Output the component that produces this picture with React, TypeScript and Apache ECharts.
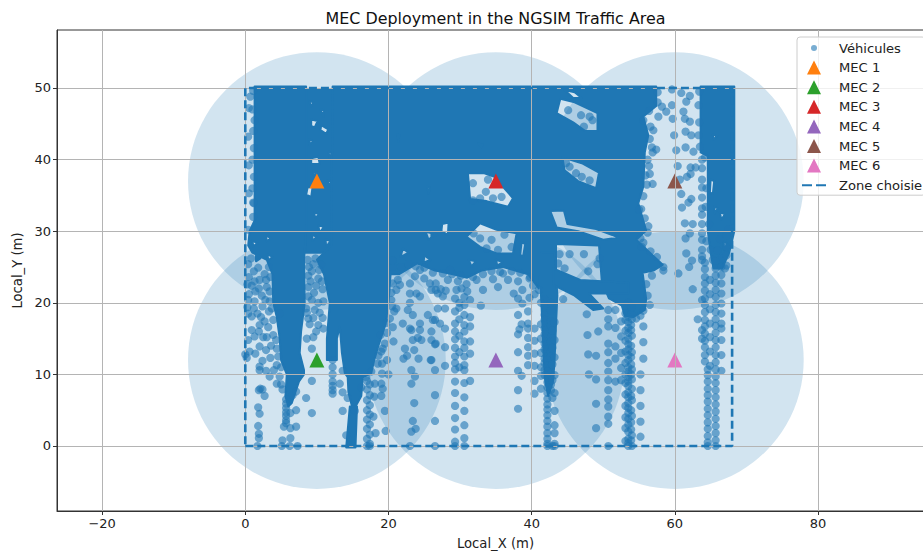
import React, { useEffect, useRef } from "react";
import * as echarts from "echarts";

type P = number[];
const BLUE = "#1f77b4";
const FONT = "'DejaVu Sans', sans-serif";

const xTicks = [-20, 0, 20, 40, 60, 80];
const yTicks = [0, 10, 20, 30, 40, 50];
const zoneLine: P[] = [[0, 0], [68, 0], [68, 50], [0, 50], [0, 0]];
const mecNames = ["MEC 1", "MEC 2", "MEC 3", "MEC 4", "MEC 5", "MEC 6"];
const mecColors = ["#ff7f0e", "#2ca02c", "#d62728", "#9467bd", "#8c564b", "#e377c2"];
const mecPoints: P[] = [[10, 37], [10, 12], [35, 37], [35, 12], [60, 37], [60, 12]];
const mecRadius = 18;

// Saturated regions of the vehicle cloud (outlines)
const massA: P[] = [[1.3, 50.2], [8.5, 50.2], [8.5, 30], [8.2, 26], [8.3, 20], [7.8, 16], [7.6, 13], [8.2, 10.6], [8.2, 10], [7.5, 9], [7, 7.5], [6.5, 6], [6, 5.5], [5.6, 7], [5.8, 10], [5, 12], [4.8, 15], [4.4, 18], [3.9, 20], [3.8, 24], [3, 26], [1, 27], [0.4, 28], [0.6, 30], [1.3, 31.5]];
const massB: P[] = [[12.2, 50.2], [44.5, 50.2], [57.4, 50.2], [57.4, 47.5], [55.6, 46], [56.3, 43.4], [55.8, 41], [55.6, 36.2], [54.9, 33.9], [56, 30.1], [54.6, 28.8], [58.3, 25.3], [57, 24.5], [55.5, 24.2], [56, 20.5], [55.8, 19], [54.2, 18], [53, 18.2], [52.6, 19.6], [50.8, 20.6], [49.8, 23], [49.4, 28], [43.4, 28.2], [43.4, 24.6], [41.2, 24], [41, 22], [39.5, 24], [36, 25], [33, 24.5], [31, 23.5], [29, 24], [26.5, 24.5], [24, 25.5], [21.5, 24], [20.3, 24], [20, 20], [19.6, 17], [18.6, 14], [18, 12], [17.6, 10.2], [16.4, 9.6], [16.2, 7], [15.4, 5.5], [14.9, 5.5], [14.4, 7.5], [14.3, 9.6], [13.9, 10.2], [13.5, 13], [13.2, 16.7], [12.8, 15], [12.8, 12], [11.4, 12], [11.4, 15], [11.8, 20], [11, 24], [10, 26], [12, 28]];
const massC: P[] = [[8.4, 49.7], [12.3, 49.7], [12.3, 27], [8.4, 27]];
const massD: P[] = [[41.3, 27], [43.2, 27], [43.6, 21], [43.4, 17], [43.2, 12], [43, 9], [42.3, 7], [41.9, 9], [41.7, 12], [41.5, 17], [41.3, 21]];
const massF: P[] = [[14.1, -0.2], [15.4, -0.2], [15.6, 5.5], [14.6, 5.5]];
const massBand: P[] = [[43, 24.8], [46.8, 23.2], [53.5, 22.8], [53.5, 21.3], [48, 21.3], [50, 19.2], [48.6, 19], [46, 21], [43, 22.5]];
const massR: P[] = [[63.6, 50.2], [68.3, 50.2], [68.3, 30], [67.6, 27], [66.6, 24.8], [65.4, 24.8], [65, 27], [64.6, 30], [64.6, 40.5], [63.6, 41]];

const holesB: P[][] = [
  [[31.1, 38.1], [33.4, 38.1], [34.8, 37.6], [36, 36.2], [37.4, 34.6], [36.7, 33.4], [33.7, 34.2], [31.4, 34.5]],
  [[44, 48.5], [46, 48], [49.2, 46.5], [49.2, 44], [47.5, 44], [45.8, 45.2], [43.5, 46.5]],
  [[44.3, 40.3], [47, 39.5], [49.4, 38.2], [49, 36], [46.5, 37], [44.6, 38.5]],
  [[42.6, 32.8], [44.5, 32.9], [45, 31], [49, 30.3], [52.2, 29.1], [50, 28.8], [46.5, 30], [43.5, 30.5]],
  [[30.9, 29.2], [32.8, 31.1], [35.1, 30.2], [37.9, 29.7], [37.4, 26.9], [35.1, 26.9], [32.8, 27.8]],
  [[44.6, 49.7], [46, 49.4], [47, 48.6], [45.8, 48.6]],
  [[32.5, 42.2], [33.2, 42.1], [33, 41.7]],
  [[22, 27.6], [22.8, 27], [21.7, 26.4]],
  [[25.2, 29.9], [26.5, 29.6], [25.6, 28.8]],
  [[25, 26.6], [25.9, 26], [24.9, 25.6]],
  [[26, 30], [26.8, 29.5], [26, 29.2]],
  [[31.2, 26], [32.2, 25.8], [31.6, 25.1]],
  [[35, 26], [36, 25.7], [35.2, 25.2]],
  [[38.6, 28.5], [39.1, 28.2], [38.8, 26.5], [38.4, 26.7]],
  [[21.2, 43.5], [21.5, 43.4], [21.4, 42.5]],
  [[25.4, 36.2], [25.8, 36.1], [25.6, 35.2]],
  [[27.5, 31], [28.4, 31.2], [28.3, 29.5], [27.4, 30]],
];
const holesA: P[][] = [
  [[3.1, 26.8], [3.8, 26.4], [3.2, 25.9]],
  [[1, 28.7], [1.7, 28.3], [1.1, 27.9]],
  [[2.9, 29.4], [3.6, 29], [3, 28.6]],
  [[1.5, 26.6], [2.1, 26.2], [1.5, 25.8]],
];
const holesC: P[][] = [
  [[8.9, 48.2], [9.5, 48], [9.2, 47.4]],
  [[10.5, 47], [11, 46.9], [10.9, 46]],
  [[9.2, 45.6], [10.1, 45.4], [9.7, 44.5], [9.2, 44.7]],
  [[10.6, 44.8], [11.6, 44.2], [11.3, 43.6], [10.5, 44.1]],
  [[9.2, 40.2], [10.2, 40.4], [10.4, 39.4], [9.2, 39.4]],
  [[8.7, 36.1], [9.4, 36.2], [9.2, 34.8], [8.5, 35.1]],
  [[11.5, 37.1], [12, 37], [11.9, 36.2]],
  [[9.5, 38.4], [10, 38.2], [9.6, 37.7]],
  [[9.6, 32.6], [10.3, 32.4], [9.8, 31.8]],
  [[10.2, 30.8], [11, 30.6], [10.4, 29.8]],
  [[9.3, 29.5], [10, 29.2], [9.4, 28.7]],
  [[11.2, 28.9], [11.9, 28.6], [11.3, 27.8]],
  [[8.9, 42.8], [9.4, 42.6], [9, 42]],
  [[11.6, 41.1], [12.1, 41], [11.8, 40.2]],
];
const holesR: P[][] = [
  [[65, 37.2], [65.5, 37], [65.3, 35.2], [64.9, 35.4]],
  [[66.3, 32.6], [67, 32.4], [66.5, 31.6]],
  [[65.5, 33.4], [66, 33.2], [65.6, 32.5]],
  [[65.3, 43.5], [65.9, 43.3], [65.4, 42.8]],
  [[66.8, 28.6], [67.3, 28.3], [66.9, 27.4]],
];
const masses = [
  { outer: massC, holes: holesC },
  { outer: massA, holes: holesA },
  { outer: massB, holes: holesB },
  { outer: massD, holes: [] as P[][] },
  { outer: massF, holes: [] as P[][] },
  { outer: massBand, holes: [] as P[][] },
  { outer: massR, holes: holesR },
];

// Vertical runs of individual vehicles: x, then the y of each point
const runs: [number, number[]][] = [
  [64.2, [25.6, 24.7, 23.6, 22.7, 21.7, 20.6, 19.7, 18.7, 17.6, 16.7, 15.7, 14.7, 13.8, 12.7, 11.8]],
  [64.6, [10.7, 9.9, 9, 8, 7.1, 6.2, 5.2, 4.3, 3.3, 2.4, 1.4, 0.5, 0]],
  [64.9, [23.2, 21.2, 19.1, 17.1, 15.2, 13.2, 11.2]],
  [65.7, [25.8, 24.8, 23.8, 22.8, 21.8, 20.8, 19.7, 18.7, 17.7, 16.8, 15.8, 14.8, 13.8, 12.7, 11.7, 10.7, 9.7, 8.8, 7.8, 6.8, 5.8, 4.8, 3.8, 2.8, 1.8, 0.8, 0]],
  [66.5, [25, 23.9, 22.7, 21.3, 19.9, 18.5, 17.1, 16.4, 14.8, 12.7, 10.5]],
  [63.8, [40, 38.8, 37.2, 36.1, 34.7, 33.2, 32.3, 31, 29.7, 28.8, 27.4, 26.5, 26, 20.4, 16.2, 15]],
  [67.2, [29.4, 27.8, 26.6, 25.2]],
  [53.5, [20, 19, 18, 17.3, 16.5, 15.8, 15, 14.2, 13.5, 12.7, 12, 11, 10.4, 9.6, 9, 8.4, 7.5, 6.8, 6, 5.3, 4.6, 3.8, 3, 2, 1, 0.4, 0]],
  [53.1, [19.6, 18.5, 17.6, 16.1, 14.7, 13.2, 11.6, 10, 8.8, 7.2, 5.6, 4, 2.5, 0.7]],
  [53.9, [18.4, 16.9, 16.2, 14, 12.4, 11.4, 10, 7, 5, 3.3, 2.3, 0.8]],
  [54, [19.4, 17.7, 15.4, 13.1, 10.7, 9.3, 8, 6.4, 4.2, 1.5, 0]],
  [55.6, [18.9, 16.7, 14.5, 12.2]],
  [55.2, [10, 7.8, 5.6, 3.4, 1.3]],
  [52.5, [17.4, 15.3, 13, 10.9, 9.2]],
  [51.7, [19, 16.5, 13.9, 12.2, 9]],
  [50.7, [19, 17.7, 16.7, 14.3, 13.1, 11.6, 10.4, 9.2, 7.8, 6.5, 5.5, 4.1, 3.1, 0]],
  [41.8, [20.5, 19.6, 18.3, 17.6, 16.4, 15.6, 14.3, 13.5, 12.2, 11.6, 10.6, 9.9]],
  [42.7, [20, 18.9, 17.4, 16.8, 15.2, 14.6, 13.2, 12.5, 11.1, 10.1, 8.6, 7.8]],
  [42.2, [12, 11.2, 10.4, 9.6, 8.9, 8.2, 7.4, 6.6, 5.8, 5.1, 4.3, 3.5, 2.7, 1.8, 1, 0.3, 0]],
  [42.9, [16.1, 13.7, 11.4, 9.2, 6.7, 0]],
  [43.2, [17.3, 14.8, 12.4, 9.9, 7.4, 4.9, 2.9, 1.8, 0.3, 0]],
  [40.4, [16.4, 14.7, 12.9, 11.2, 9.1, 7.3]],
  [39.5, [18.8, 17.1, 16.4, 15.1, 13.8, 12.6, 11.3]],
  [38.1, [20.6, 18.3, 15.6, 13.1, 10.5, 7.8, 5.2]],
  [41.3, [20, 17, 15, 13, 11, 9.8, 8]],
  [29.3, [20.6, 18.8, 17.1, 16, 14.9, 13.7, 12.5, 11.6, 10.7, 9, 7.4, 5.6, 3.9, 2.3, 0.6, 0]],
  [29.9, [20, 19.3, 17.7, 15.4, 13.1, 11]],
  [30.6, [20.8, 19.7, 18.3, 16.9, 16, 14.6, 13.7, 12.5, 11.3, 10.6, 8.8, 6.8, 4.9, 2.9, 1.1, 0]],
  [31.4, [20.4, 18, 16.7, 14.6, 12.9, 9.1]],
  [27.9, [19.2, 16.4, 13.8, 11.2]],
  [26.5, [17.6, 14.2, 10.6, 7.1, 3.5, 0]],
  [5.7, [6.5, 5.9, 5.3, 4.7, 4.2, 3.6, 3.2]],
  [12.2, [12, 11, 10, 9, 8.4, 7.8, 7.3]],
  [17, [9.1, 7.9, 6.4, 5, 3.7, 2.4, 1, 0]],
  [17.4, [8.6, 7.1, 5.7, 4.4, 3, 1.6, 0.3, 0]],
];

const loosePoints: P[] = [
  // left strip
  [0.5, 47.2], [1.3, 45.5], [0.4, 43.2], [1.2, 41.6], [0.5, 39.2], [1.2, 37.6], [0.5, 35.3], [1.2, 33.9], [1.1, 32], [0.4, 30.2], [0.7, 48.8],
  // inside the holes
  [31.8, 36.7], [33.6, 35.5], [35.8, 34.8], [33.9, 37.2], [32.8, 34.6], [34.6, 34.6], [31.8, 34.3],
  [45.1, 46.9], [46.9, 46.2], [48.1, 46], [47.3, 44.6], [48.5, 45.5],
  [45.3, 39], [46.2, 38.1], [48.1, 37.1], [47, 37.6], [44.8, 39.5],
  [32.8, 29], [34.4, 28.8], [36.2, 29.5], [33.7, 27.6], [35.3, 27.4], [37.2, 27.8], [31.9, 29.7],
  [43.9, 26.8], [45.3, 26.8], [47.3, 26.8], [49.5, 26.2], [43.7, 25.5], [49.2, 25.4], [47.9, 24.4], [44.6, 24.8],
  // between the main mass and the right-hand lanes
  [57.7, 46], [58.2, 47.4], [59.6, 49.8], [60.9, 49.3], [62.1, 48.9], [61.6, 48.1], [59.6, 47.6], [58.8, 46.7], [59.7, 45.7], [61.2, 46.7], [61.4, 45.7], [62.1, 45.3], [57, 44.1], [59.9, 43.4], [61.5, 43.9], [62.3, 43.4], [56.8, 41.7], [57.4, 41.4], [60.2, 41.3], [61.5, 41.7], [62.6, 41.1], [56.4, 39.1], [56.9, 41], [60.4, 39.1], [62.2, 38.9], [62.9, 38.9], [62.2, 38], [61.7, 37.6], [56.5, 38], [56.9, 36.6], [60.7, 37.2], [60.9, 35.2], [56.1, 36.5], [62.3, 34.5], [61.9, 34], [61, 33.3], [61.4, 31.1], [62.5, 31], [62.1, 29.7], [61.5, 29], [61.6, 26.9], [62.4, 25.9], [62, 25],
  [58.4, 25], [60.5, 24.1], [62.5, 21.9], [56.5, 19.7], [63.2, 17.7], [55.3, 33.1], [55.8, 31.8], [56.2, 29.8], [55.2, 29], [55.4, 27.8],
  // around x = 48
  [47.7, 18.4], [49.3, 16], [47.8, 15.5], [47.9, 12.8], [49, 12.6], [48, 10], [49, 9.3], [49, 5.9], [49, 2.5], [44.4, 20.5],
  // lower middle
  [38.6, 9.8], [38.3, 16.3], [38.6, 17], [32.9, 19.6], [26, 12], [26, 16], [23.2, 10.6], [23.7, 9.7], [23.2, 8.7], [23.6, 6], [23.4, 3.5], [23.2, 2], [23.8, 2.4], [23, 0], [22.1, 12.2], [22.6, 12.6], [24.2, 12.2], [25.9, 12], [22.3, 13.6], [23.6, 13.4], [24.1, 15.1], [23, 16.4], [24.4, 17.1],
  // upper part of the x = 20..27 cloud
  [20.6, 25], [21.3, 23.2], [20.6, 22.7], [21.6, 22.5], [21.1, 21.8], [23, 21.3], [23, 20], [22.7, 19], [23.4, 18.3], [22, 17.1], [23.7, 23.7], [24.4, 24.6], [25, 23.4], [25.8, 22.7], [23.9, 21.3], [24.4, 20.9], [26, 21.8], [26.6, 22.7], [26.9, 21.3], [26.9, 19.2], [26.2, 17.6], [25.5, 18.3], [27.2, 17.1], [26.6, 14.3], [26, 14.8], [23.4, 14.8], [24.6, 14.8], [23.2, 16.2], [24.4, 16.2], [23, 22.7], [26.6, 21.8], [27.3, 21.9], [28, 21.7], [27.6, 20.9],
  // below the x = 26..41 band
  [28.3, 23.2], [29.7, 23], [30.9, 22.6], [32.3, 23.2], [33.2, 21.8], [34.6, 23.3], [35.3, 22.2], [36.7, 23.2], [38.1, 23], [38.7, 21.8], [39.7, 23.4], [39.7, 20.7], [37.5, 21.3], [38.7, 19.9], [29.5, 21.8], [30.2, 22], [31, 21.6], [40.2, 22.4], [28.9, 24], [36, 24.1],
  // left columns
  [1.8, 5.4], [2, 4.5], [1.8, 2.8], [1.9, 1.7], [1.9, 1.1], [1.7, 0], [2.1, 8], [2.4, 7.9], [1.9, 7.8], [2.7, 7], [4.4, 8.7], [2, 10.6], [2, 11.1], [2.9, 10.5], [2.4, 11.9], [0.2, 12.3], [0, 12.8], [0.6, 13.2], [0.4, 14.8], [2, 13.9], [1.9, 16], [2.5, 15.2], [3, 15.2], [2, 16.9], [0.9, 18.1], [0.4, 18.5], [2.7, 17.4], [1.7, 18.5], [2.4, 19.5], [0.4, 20.4], [3.4, 20.2], [4.4, 11.3], [5, 11], [4.4, 13.6], [4.6, 12.5], [3.9, 17.6], [4.8, 18.5], [0.5, 21.2], [1.4, 21.6], [2.3, 21], [0.9, 22.4], [2, 23.2], [0.5, 23.6], [1.2, 24.4], [3, 22.2], [2.7, 24], [0.4, 25.4], [3.3, 25],
  [4.8, 9.7], [5, 8.6], [5.2, 7.9],
  [0.8, 26.2], [1.8, 24.9], [2.9, 23.2], [3.5, 23.6], [1.3, 23], [0.3, 22.6], [1.9, 22], [3.4, 21.6], [2.8, 20.4], [1.3, 20.2], [0.3, 19.4], [1.2, 19.2], [3.3, 18.8], [3.7, 19.2], [2.2, 18], [3.2, 16.6], [3.9, 15.5], [4.3, 14.8], [3.6, 14], [1.3, 15.3], [0.9, 16.2], [2.9, 13.4], [1.4, 12.9], [3.5, 12.3], [4, 10.6], [3.4, 9.7],
  // around the green triangle
  [9.3, 13.6], [9.3, 9.1], [8.5, 6.7], [6.3, 4.6], [7.1, 5], [9.3, 4.6], [6.6, 7.1], [7.1, 7.6], [5.4, 2.7], [6.3, 2.5], [7.1, 2.7], [5.2, 0.8], [6.3, 1.1], [5.1, 0], [6.2, 0], [7.3, 0], [8.6, 15], [9.9, 16], [9, 17], [9.5, 17.9], [8.8, 17.8], [8.5, 19.2], [10.2, 16.9], [8.8, 20.9], [9.6, 21.4], [10.2, 20], [9.1, 23], [10.2, 23.4], [8.9, 25], [9.5, 25.4], [10.8, 21.9], [10.8, 17.9],
  [8.7, 26], [9.8, 26.2], [10.6, 25.3], [9.3, 24.4], [10.3, 24.6], [8.8, 23.8], [9.9, 22.4], [8.8, 22.2], [10.7, 23], [9.3, 20.4], [8.6, 18.6], [9.7, 19], [10.9, 20.2], [10.4, 18.6], [10.9, 16.4], [9.5, 15.2],
  // around x = 14..20
  [18.1, 8.7], [19, 8.7], [19.2, 8], [19, 7], [18, 6.9], [19.5, 4.9], [17.9, 4.1], [19.6, 2.1], [18.2, 1.8], [20, 10], [19.1, 10.1], [19.5, 14.3], [19.2, 13.6], [18.5, 11.5], [19.1, 11.5], [13.2, 8.7], [13.6, 7.5], [14.3, 6.7], [13.6, 4.9], [15.3, 4.9], [14.1, 1.5], [13.6, 10.5], [16.2, 8.2], [18.6, 12.6], [19.8, 12], [18.9, 15.5], [19.7, 17.2], [20.6, 16.6], [21.1, 19.2], [16.9, 9.6], [17.6, 10.4],
  [20.4, 20.4], [20.8, 18.8], [20.7, 14.6],
  // along the lower edge of the main mass
  [20.6, 25.9], [21.8, 25], [22.8, 25.4], [23.8, 25.1], [25, 24.9], [26.2, 24.2], [27.6, 24.1], [28.6, 24.6], [30.1, 23.8], [31.8, 23.6], [33.2, 24], [34.4, 24.4], [35.6, 24.3], [37.2, 24.4], [38.4, 24.2], [39.8, 23.6], [41, 21.8], [40.4, 21.2], [20.4, 21.4], [20.5, 19.5], [20.2, 17.8], [19.8, 15.8], [19, 13.2],
  // along the right edge of the main mass
  [57.6, 49.4], [57.6, 48], [56.4, 46.8], [55.6, 45.5], [56.6, 44.6], [56.5, 42.9], [56.2, 40], [55.9, 37.8], [55.6, 34.9], [55, 33], [56.3, 30.7], [55.6, 28.4], [56.6, 27.2], [57.5, 26.4], [58.4, 24.5], [56.8, 23.8], [56, 22.6], [56.2, 21], [55.2, 18.2], [54.6, 17.8],
  // left edge of the first mass and of the right-hand lanes
  [1.1, 49.6], [1, 47], [1.1, 44], [1, 40], [1, 36], [1.1, 34],
  [63.4, 49.5], [63.3, 47.6], [63.4, 45.2], [63.3, 43.4], [63.5, 41.8], [64.2, 40.3], [64.4, 36], [64.3, 33.4], [64.8, 31], [64.4, 28.6], [65, 27.4], [66, 27.3], [65.3, 26], [66.6, 26.2], [67.5, 30.3], [66.3, 28.9], [67, 24.8],
];

const looseFromRuns: P[] = runs.flatMap(([x, ys]) => ys.map((y) => [x, y]));
const vehicles: P[] = [...loosePoints, ...looseFromRuns];

function signedArea(pts: number[][]) {
  let a = 0;
  pts.forEach((p, i) => {
    const q = pts[(i + 1) % pts.length];
    a += p[0] * q[1] - q[0] * p[1];
  });
  return a;
}
function ringPath(pts: number[][], positive: boolean) {
  const ordered = signedArea(pts) > 0 === positive ? pts : [...pts].reverse();
  return "M" + ordered.map((p) => `${p[0].toFixed(1)} ${p[1].toFixed(1)}`).join("L") + "Z";
}

export default function App() {
  const ref = useRef<HTMLDivElement>(null);
  useEffect(() => {
    const chart = echarts.init(ref.current!, undefined, { renderer: "svg" });
    const text = { color: "#222", fontFamily: FONT, fontSize: 13 };
    const axisCommon = {
      axisLine: { show: true, onZero: false, lineStyle: { color: "#333", width: 1 } },
      splitLine: { show: true, lineStyle: { color: "#b4b4b4", width: 1 } },
      nameLocation: "middle" as const,
      nameTextStyle: { ...text, fontSize: 13.2 },
      z: 5,
    };
    const triangleIcon = "path://M7 0L14 14L0 14Z";
    chart.setOption({
      animation: false,
      backgroundColor: "#fff",
      title: {
        text: "MEC Deployment in the NGSIM Traffic Area",
        left: 490.5,
        top: 5,
        textAlign: "center",
        textStyle: { ...text, fontSize: 15.9, fontWeight: "normal", color: "#111" },
      },
      grid: { left: 57, top: 30, width: 877, height: 481, show: true, borderColor: "#333", borderWidth: 1, backgroundColor: "#fff", z: 0, outerBoundsMode: "none" },
      xAxis: {
        ...axisCommon,
        type: "value",
        min: -26.3,
        max: 96.2,
        name: "Local_X (m)",
        nameGap: 26,
        axisTick: { show: true, customValues: xTicks, length: 4, lineStyle: { color: "#333" } },
        axisLabel: { ...text, margin: 6, customValues: xTicks, formatter: (v: number) => String(v).replace("-", "\u2212") },
      },
      yAxis: {
        ...axisCommon,
        type: "value",
        min: -9.08,
        max: 58.1,
        name: "Local_Y (m)",
        nameGap: 33,
        axisTick: { show: true, customValues: yTicks, length: 4, lineStyle: { color: "#333" } },
        axisLabel: { ...text, margin: 6, customValues: yTicks },
      },
      legend: {
        left: 797,
        top: 37,
        orient: "vertical",
        itemWidth: 24,
        itemHeight: 14,
        itemGap: 5.6,
        padding: [4, 3, 3, 5],
        borderColor: "#ccc",
        borderWidth: 1,
        borderRadius: 3,
        backgroundColor: "rgba(255,255,255,0.8)",
        textStyle: { ...text, fontSize: 13.1, padding: [0, 0, 0, 8] },
        z: 20,
        data: [
          { name: "Véhicules", icon: "path://M0 0M14 14M4 7a3 3 0 1 0 6 0a3 3 0 1 0 -6 0Z" },
          ...mecNames.map((name) => ({ name, icon: triangleIcon })),
          { name: "Zone choisie", icon: "path://M0 0M24 14M0 6H10V8H0ZM14 6H24V8H14Z" },
        ],
      },
      series: [
        {
          type: "custom",
          name: "Couverture",
          coordinateSystem: "cartesian2d",
          z: 1,
          silent: true,
          data: mecPoints,
          renderItem: (_: any, api: any) => {
            const c = api.coord([api.value(0), api.value(1)]);
            const r = api.size([mecRadius, 0])[0];
            return { type: "circle", shape: { cx: c[0], cy: c[1], r }, style: { fill: "rgba(31,119,180,0.2)" } };
          },
        },
        {
          type: "custom",
          name: "Densité",
          coordinateSystem: "cartesian2d",
          z: 2,
          silent: true,
          data: masses.map(() => [0, 0]),
          renderItem: (params: any, api: any) => {
            const m = masses[params.dataIndex];
            const d = ringPath(m.outer.map((p) => api.coord(p)), true) + m.holes.map((h) => ringPath(h.map((p) => api.coord(p)), false)).join("");
            return { type: "path", shape: { pathData: d }, style: { fill: BLUE, stroke: BLUE, lineWidth: 2, lineJoin: "round" } };
          },
        },
        {
          type: "scatter",
          name: "Véhicules",
          data: vehicles,
          symbol: "circle",
          symbolSize: 8.2,
          z: 3,
          silent: true,
          itemStyle: { color: BLUE, opacity: 0.6 },
        },
        {
          type: "line",
          name: "Zone choisie",
          data: zoneLine,
          symbol: "none",
          z: 6,
          silent: true,
          lineStyle: { color: BLUE, width: 2.6, type: [8, 4] },
          itemStyle: { color: BLUE },
        },
        ...mecNames.map((name, i) => ({
          type: "scatter",
          name,
          data: [mecPoints[i]],
          symbol: "triangle",
          symbolSize: 15,
          z: 4,
          silent: true,
          itemStyle: { color: mecColors[i], opacity: 1 },
        })),
      ],
    });
    return () => chart.dispose();
  }, []);
  return <div ref={ref} style={{ position: "fixed", left: 0, top: 0, width: 923, height: 552, overflow: "hidden" }} />;
}
